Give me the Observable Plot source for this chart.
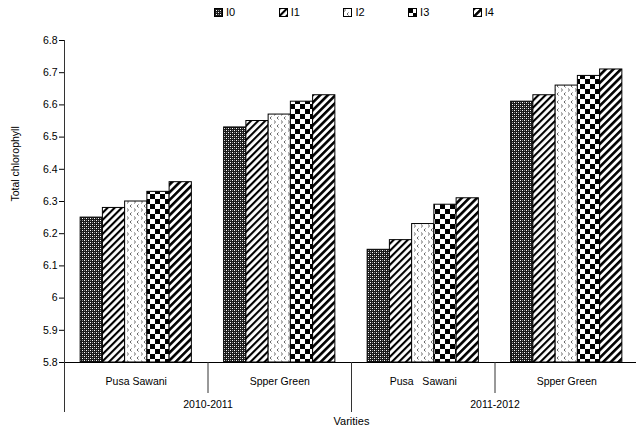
<!DOCTYPE html>
<html><head><meta charset="utf-8">
<script src="https://cdn.jsdelivr.net/npm/d3@7"></script>
<script src="https://cdn.jsdelivr.net/npm/@observablehq/plot@0.6"></script>
<style>
body{margin:0;background:#fff;font-family:"Liberation Sans",Arial,sans-serif;}
#legend{position:relative;height:24px;width:636px;font-size:11px;color:#000;}
.item{position:absolute;top:6px;display:flex;align-items:center;gap:3px;line-height:12px;}
.item svg{display:block;}
</style></head><body>
<div id="legend"></div>
<div id="chart"></div>
<script>
// ---- data ----
const years = ["2010-2011", "2011-2012"];
const varieties = ["Pusa Sawani", "Spper Green", "Pusa\u00a0\u00a0 Sawani", "Spper Green"];
const series = ["I0", "I1", "I2", "I3", "I4"];
const I0 = [6.25, 6.53, 6.15, 6.61];
const I1 = [6.28, 6.55, 6.18, 6.63];
const I2 = [6.30, 6.57, 6.23, 6.66];
const I3 = [6.33, 6.61, 6.29, 6.69];
const I4 = [6.36, 6.63, 6.31, 6.71];
const yTicks = [5.8, 5.9, 6.0, 6.1, 6.2, 6.3, 6.4, 6.5, 6.6, 6.7, 6.8];
const yLabel = "Total chlorophyll";
const xLabel = "Varities";

// ---- derived tables ----
const seriesValues = [I0, I1, I2, I3, I4];
const bars = [];
series.forEach((s, si) => seriesValues[si].forEach((v, g) => bars.push({series: s, si, g, value: v})));
const groups = varieties.map((label, g) => ({label, g}));
const yearRows = years.map((label, yi) => ({label, yi}));
const nPer = varieties.length / years.length;
const yearBounds = d3.range(0, groups.length + 1, nPer);
const innerBounds = d3.range(0, groups.length).filter(g => g % nPer !== 0);
const pad = 0.1125, bw = (1 - 2 * pad) / series.length;
const yMin = yTicks[0], yMax = yTicks[yTicks.length - 1];

const chart = Plot.plot({
  width: 636, height: 404,
  marginTop: 16, marginBottom: 66, marginLeft: 64, marginRight: 0,
  style: {fontFamily: "'Liberation Sans', Arial, sans-serif", fontSize: "10.5px", background: "white", color: "black", overflow: "hidden"},
  x: {domain: [0, groups.length], range: [64, 638], axis: null},
  y: {domain: [yMin, yMax], ticks: yTicks, tickSize: 5, tickPadding: 2, tickFormat: d => d3.format("~g")(d), label: null},
  color: {type: "ordinal", domain: series, range: series.map(s => `url(#pat-${s})`)},
  marks: [
    Plot.rectY(bars, {
      x1: d => d.g + pad + d.si * bw,
      x2: d => d.g + pad + (d.si + 1) * bw,
      y1: yMin, y2: "value",
      fill: "series", stroke: "black", strokeWidth: 1
    }),
    Plot.ruleY([yMin], {x1: 0, x2: groups.length, stroke: "black"}),
    Plot.ruleX([0], {y1: yMax, y2: yMin, stroke: "#333"}),
    Plot.ruleX(yearBounds, {y1: yMin, y2: yMin, insetBottom: -50, stroke: "#333"}),
    Plot.ruleX(innerBounds, {y1: yMin, y2: yMin, insetBottom: -31, stroke: "#333"}),
    Plot.text(groups, {x: d => d.g + 0.5, y: yMin, text: "label", dy: 19}),
    Plot.text(yearRows, {x: d => d.yi * nPer + nPer / 2, y: yMin, text: "label", dy: 42}),
    Plot.text([xLabel], {x: groups.length / 2, y: yMin, text: d => d, dy: 59, fontSize: 11}),
    Plot.text([yLabel], {frameAnchor: "left", text: d => d, dx: -49, rotate: -90, fontSize: 10.5})
  ]
});
document.getElementById("chart").appendChild(chart);

// ---- fill patterns ----
const svg = d3.select(chart);
const defs = svg.insert("defs", ":first-child");
function pat(id, w, h, transform) {
  const p = defs.append("pattern").attr("id", id).attr("patternUnits", "userSpaceOnUse")
    .attr("width", w).attr("height", h);
  if (transform) p.attr("patternTransform", transform);
  return p;
}
// I0: dark fine lattice
{
  const p = pat("pat-I0", 4, 4);
  p.append("rect").attr("width", 4).attr("height", 4).attr("fill", "#1a1a1a");
  [[0,0,"#fff"],[2,2,"#fff"],[2,0,"#8a8a8a"],[0,2,"#8a8a8a"]].forEach(([x,y,c]) =>
    p.append("rect").attr("x", x).attr("y", y).attr("width", 1).attr("height", 1).attr("fill", c));
}
// I1: diagonal stripes
{
  const p = pat("pat-I1", 5, 5, "rotate(45)");
  p.append("rect").attr("width", 5).attr("height", 5).attr("fill", "#fff");
  p.append("rect").attr("width", 2.1).attr("height", 5).attr("fill", "#000");
}
// I2: small chevrons
{
  const p = pat("pat-I2", 7, 8);
  p.append("rect").attr("width", 7).attr("height", 8).attr("fill", "#fff");
  p.append("path").attr("d", "M1,0.5L2.6,2L1,3.5M5.6,4.5L4,6L5.6,7.5").attr("fill", "none").attr("stroke", "#555").attr("stroke-width", 0.9);
}
// I3: checkerboard
{
  const p = pat("pat-I3", 10, 10);
  p.append("rect").attr("width", 10).attr("height", 10).attr("fill", "#fff");
  p.append("rect").attr("width", 5).attr("height", 5).attr("fill", "#000");
  p.append("rect").attr("x", 5).attr("y", 5).attr("width", 5).attr("height", 5).attr("fill", "#000");
}
// I4: wider diagonal stripes
{
  const p = pat("pat-I4", 5.4, 5.4, "rotate(45)");
  p.append("rect").attr("width", 5.4).attr("height", 5.4).attr("fill", "#fff");
  p.append("rect").attr("width", 2.6).attr("height", 5.4).attr("fill", "#000");
}

// ---- legend ----
const legend = d3.select("#legend");
series.forEach((s, i) => {
  const item = legend.append("div").attr("class", "item").style("left", (214 + i * 64.7) + "px");
  const sw = item.append("svg").attr("width", 9).attr("height", 9);
  sw.append("rect").attr("x", 0.5).attr("y", 0.5).attr("width", 8).attr("height", 8)
    .attr("fill", `url(#pat-${s})`).attr("stroke", "#000");
  item.append("span").text(s);
});
</script>
</body></html>
